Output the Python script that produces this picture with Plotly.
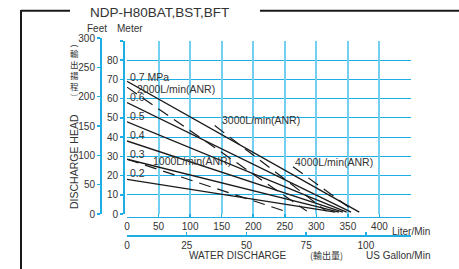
import plotly.graph_objects as go

W, H = 459, 269

# ---- data ----
pressure_labels = ["0.7 MPa", "0.6", "0.5", "0.4", "0.3", "0.2"]
pressure_label_head = [71.2, 60.8, 51.2, 41.0, 31.0, 21.1]
pressure_flow_start = [0, 0, 0, 0, 0, 0]
pressure_head_start = [69, 58, 48, 38, 28.5, 18]
pressure_flow_end = [368, 355, 348, 342, 336, 330]
pressure_head_end = [1, 1, 1, 1, 1, 1]

air_labels = ["1000L/min(ANR)", "2000L/min(ANR)", "3000L/min(ANR)", "4000L/min(ANR)"]
air_label_flow = [38, 13, 147, 263]
air_label_head = [27.5, 65, 48.8, 27]
air_flow_start = [0, 0, 139, 263]
air_head_start = [28.5, 66, 46, 24.6]
air_flow_end = [250, 285, 316, 360]
air_head_end = [1.5, 1.5, 1.5, 1.5]

liter_ticks = [0, 50, 100, 150, 200, 250, 300, 350, 400, 450]
liter_ticktext = ["0", "50", "100", "150", "200", "250", "300", "350", "400", ""]
gallon_ticks = [0, 25, 50, 75, 100]
meter_ticks = [0, 10, 20, 30, 40, 50, 60, 70, 80, 90]
meter_ticktext = ["0", "10", "20", "30", "40", "50", "60", "70", "80", ""]
meter_grid = [10, 20, 30, 40, 50, 60, 70, 80, 90]
feet_ticks = [0, 50, 100, 150, 200, 250, 300]

L_MAX = 450
M_MAX = 90
GAL_PER_L = 1 / 3.785411784


def px(x):
    return x / W


def py(y):
    return 1 - y / H


FONT = "Liberation Sans, Arial, sans-serif"
TXT = "#333333"
BLUE = "#1eaee6"

fig = go.Figure()

for i in range(len(pressure_labels)):
    fig.add_trace(go.Scatter(
        x=[pressure_flow_start[i], pressure_flow_end[i]],
        y=[pressure_head_start[i], pressure_head_end[i]],
        mode="lines", line=dict(color="#1a1a1a", width=1.3),
        xaxis="x", yaxis="y", hoverinfo="skip", showlegend=False))

for i in range(len(air_labels)):
    fig.add_trace(go.Scatter(
        x=[air_flow_start[i], air_flow_end[i]],
        y=[air_head_start[i], air_head_end[i]],
        mode="lines", line=dict(color="#1a1a1a", width=1.2, dash="12px,7px"),
        xaxis="x", yaxis="y", hoverinfo="skip", showlegend=False))

# invisible traces to activate secondary axes
fig.add_trace(go.Scatter(x=[0], y=[0], mode="markers", marker=dict(opacity=0),
                         xaxis="x2", yaxis="y", hoverinfo="skip", showlegend=False))
fig.add_trace(go.Scatter(x=[0], y=[0], mode="markers", marker=dict(opacity=0),
                         xaxis="x3", yaxis="y2", hoverinfo="skip", showlegend=False))

annotations = []
for i, t in enumerate(pressure_labels):
    annotations.append(dict(x=0, y=pressure_label_head[i], xref="x", yref="y", text=t,
                            showarrow=False, xanchor="left", yanchor="middle", xshift=1,
                            font=dict(size=10.5, color=TXT, family=FONT)))
for i, t in enumerate(air_labels):
    annotations.append(dict(x=air_label_flow[i], y=air_label_head[i], xref="x", yref="y", text=t,
                            showarrow=False, xanchor="left", yanchor="middle",
                            font=dict(size=10.5, color=TXT, family=FONT)))

# static texts
annotations += [
    dict(x=px(88), y=py(12), xref="paper", yref="paper", text="NDP-H80BAT,BST,BFT",
         showarrow=False, xanchor="left", yanchor="middle",
         font=dict(size=13.5, color=TXT, family=FONT)),
    dict(x=px(97), y=py(28), xref="paper", yref="paper", text="Feet",
         showarrow=False, xanchor="center", yanchor="middle",
         font=dict(size=10, color=TXT, family=FONT)),
    dict(x=px(130), y=py(28), xref="paper", yref="paper", text="Meter",
         showarrow=False, xanchor="center", yanchor="middle",
         font=dict(size=10, color=TXT, family=FONT)),
    dict(x=px(74), y=py(162), xref="paper", yref="paper", text="DISCHARGE HEAD",
         showarrow=False, textangle=-90, xanchor="center", yanchor="middle",
         font=dict(size=10.5, color=TXT, family=FONT)),
    dict(x=px(74), y=py(70), xref="paper", yref="paper",
         text="︵<br>輸<br>出<br>揚<br>程<br>︶",
         showarrow=False, xanchor="center", yanchor="middle",
         font=dict(size=8.5, color=TXT, family="Noto Sans CJK TC")),
    dict(x=px(432), y=py(231), xref="paper", yref="paper", text="Liter/Min",
         showarrow=False, xanchor="right", yanchor="middle",
         font=dict(size=10, color=TXT, family=FONT)),
    dict(x=px(238), y=py(255), xref="paper", yref="paper", text="WATER DISCHARGE",
         showarrow=False, xanchor="center", yanchor="middle",
         font=dict(size=10, color=TXT, family=FONT)),
    dict(x=px(326), y=py(255), xref="paper", yref="paper", text="(輸出量)",
         showarrow=False, xanchor="center", yanchor="middle",
         font=dict(size=9, color=TXT, family="Noto Sans CJK TC")),
    dict(x=px(432), y=py(255), xref="paper", yref="paper", text="US Gallon/Min",
         showarrow=False, xanchor="right", yanchor="middle",
         font=dict(size=10, color=TXT, family=FONT)),
]

shapes = [
    dict(type="line", xref="paper", yref="paper", x0=px(21), y0=py(10.7), x1=px(70), y1=py(10.7),
         line=dict(color="#1a1a1a", width=2)),
    dict(type="line", xref="paper", yref="paper", x0=px(21), y0=py(10), x1=px(21), y1=py(269),
         line=dict(color="#1a1a1a", width=2)),
    dict(type="line", xref="paper", yref="paper", x0=px(260), y0=py(10.7), x1=px(459), y1=py(10.7),
         line=dict(color="#1a1a1a", width=2)),
]

tickfont = dict(size=10, color=TXT, family=FONT)
xdom = [px(127), px(411)]

fig.update_layout(
    width=W, height=H,
    margin=dict(l=0, r=0, t=0, b=0, autoexpand=False),
    paper_bgcolor="white", plot_bgcolor="rgba(0,0,0,0)",
    showlegend=False,
    annotations=annotations, shapes=shapes,
    xaxis=dict(domain=xdom, range=[0, L_MAX], anchor="free", position=py(216.5),
               tickmode="array", tickvals=liter_ticks, ticktext=liter_ticktext,
               showgrid=True, gridcolor="#72cff2", gridwidth=2, zeroline=False,
               showline=True, linecolor=BLUE, linewidth=1.5,
               ticks="inside", ticklen=3, tickcolor=BLUE, tickwidth=1.5,
               tickfont=tickfont, fixedrange=True),
    xaxis2=dict(overlaying="x", range=[0, L_MAX * GAL_PER_L], anchor="free", position=py(235),
                side="bottom", tickmode="array", tickvals=gallon_ticks,
                showgrid=False, zeroline=False,
                showline=True, linecolor=BLUE, linewidth=1.5,
                ticks="inside", ticklen=3, tickcolor=BLUE, tickwidth=1.5,
                tickfont=tickfont, fixedrange=True),
    xaxis3=dict(domain=[0.3, 0.8], range=[0, 1], visible=False, anchor="y2", fixedrange=True),
    yaxis=dict(domain=[py(214), py(41)], range=[0, M_MAX], anchor="free", position=px(123),
               tickmode="array", tickvals=meter_ticks, ticktext=meter_ticktext,
               showgrid=False, zeroline=False,
               minor=dict(tickmode="array", tickvals=meter_grid, showgrid=True,
                          gridcolor="#1eaee6", gridwidth=1.2, ticks=""),
               showline=True, linecolor=BLUE, linewidth=1.5,
               ticks="outside", ticklen=3, tickcolor=BLUE, tickwidth=1.5,
               tickfont=tickfont, fixedrange=True),
    yaxis2=dict(domain=[py(214), py(38)], range=[0, 300], anchor="free", position=px(100),
                tickmode="array", tickvals=feet_ticks,
                showgrid=False, zeroline=False,
                showline=True, linecolor=BLUE, linewidth=1.5,
                ticks="outside", ticklen=3, tickcolor=BLUE, tickwidth=1.5,
                tickfont=tickfont, fixedrange=True),
)

fig.write_html("out.html", config={"displayModeBar": False, "staticPlot": True},
               post_script="document.body.style.margin='0';")
